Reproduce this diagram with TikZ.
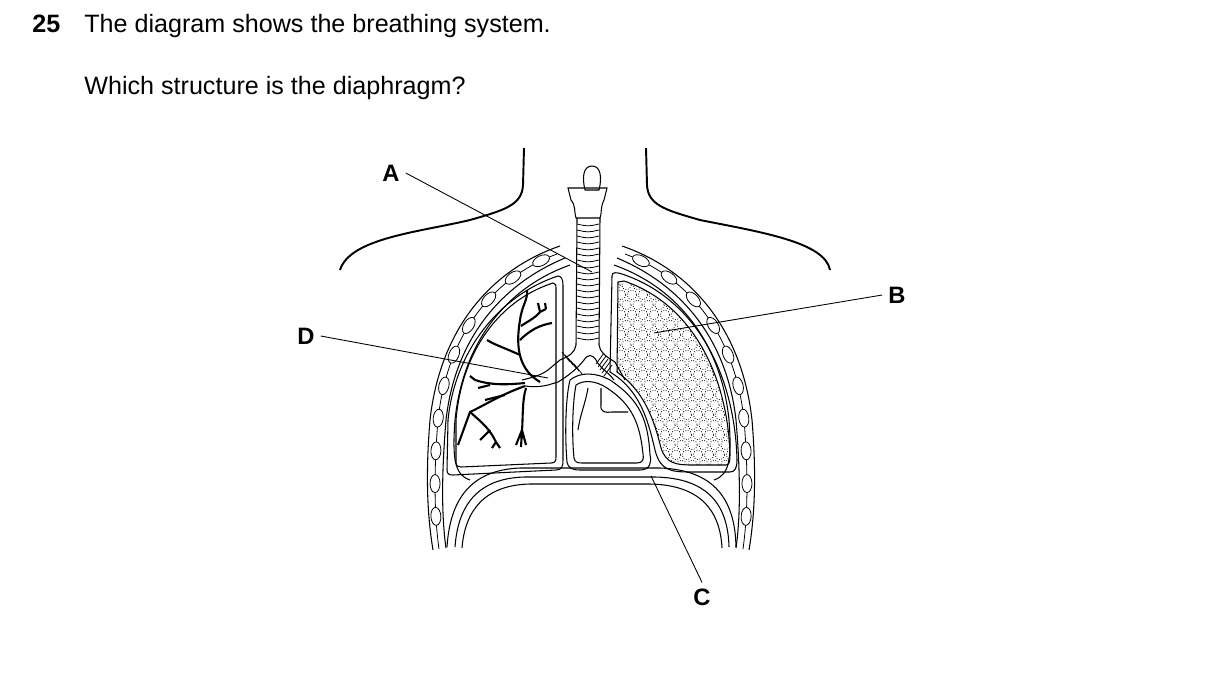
\documentclass[tikz,border=0pt]{standalone}
\usepackage{fontspec}
\setmainfont{Liberation Sans}
\usetikzlibrary{decorations.markings}
\begin{document}
\begin{tikzpicture}[x=0.02cm,y=-0.02cm,
  line/.style={line width=0.6pt},
  thin/.style={line width=0.45pt},
  body/.style={line width=1.1pt},
  lbl/.style={font=\fontsize{13.5}{15}\selectfont\bfseries},
  txt/.style={font=\fontsize{14.3}{16}\selectfont, anchor=base west, inner sep=0pt},
  lead/.style={line width=0.5pt},
  ribs/.style={thin, postaction={decorate}, decoration={markings,
     mark=between positions 0.05 and 0.98 step 0.095 with {\draw[thin,fill=white] (0,0) ellipse (9 and 5);}}}]
\useasboundingbox (0,0) rectangle (1209,696);
\node[txt,font=\fontsize{14.3}{16}\selectfont\bfseries] (q) at (32,33) {25};
\node[txt] (t1) at (84,33) {The diagram shows the breathing system.};
\node[txt] (t2) at (84,94) {Which structure is the diaphragm?};
% neck and shoulders
\draw[body] (524,148) -- (523,185) .. controls (522,205) and (505,210) .. (470,220) .. controls (420,232) and (350,238) .. (340,270);
\draw[body] (646,148) -- (647,185) .. controls (648,205) and (665,210) .. (700,220) .. controls (760,232) and (825,242) .. (830,270);
% ribcage outer band
\draw[line] (560,246) .. controls (490,270) and (440,330) .. (430,420) .. controls (425,480) and (428,520) .. (433,550);
\draw[line] (565,258) .. controls (500,285) and (455,340) .. (446,420) .. controls (441,480) and (442,520) .. (446,548);
\draw[ribs] (557,254) .. controls (492,278) and (447,335) .. (438,420) .. controls (433,480) and (435,520) .. (439,549);
\draw[line] (622,246) .. controls (692,270) and (742,330) .. (752,420) .. controls (757,480) and (754,520) .. (749,550);
\draw[line] (617,258) .. controls (682,285) and (727,340) .. (736,420) .. controls (741,480) and (740,520) .. (736,548);
\draw[ribs] (625,254) .. controls (690,278) and (735,335) .. (744,420) .. controls (749,480) and (747,520) .. (743,549);
% pleural lines
\draw[line] (570,265) .. controls (500,290) and (462,350) .. (455,420) .. controls (452,460) and (455,475) .. (470,480);
\draw[line] (614,265) .. controls (684,290) and (722,350) .. (729,420) .. controls (732,460) and (729,475) .. (714,480);
% diaphragm
\draw[line] (447,547) .. controls (450,500) and (470,470) .. (520,468) -- (660,468) .. controls (715,470) and (735,500) .. (736,547);
\draw[line] (455,547) .. controls (458,505) and (478,478) .. (525,477) -- (655,477) .. controls (708,478) and (728,505) .. (729,547);
\draw[line] (462,548) .. controls (465,510) and (485,485) .. (530,484) -- (650,484) .. controls (700,485) and (720,510) .. (722,548);
% left lung
\draw[line] (558,276) .. controls (500,295) and (455,350) .. (448,420) -- (447,470) .. controls (447,474) and (449,475) .. (453,475) -- (556,470) .. controls (562,470) and (563,466) .. (563,460) -- (563,285) .. controls (563,279) and (561,276) .. (558,276) -- cycle;
\draw[line] (553,283) .. controls (500,300) and (462,350) .. (456,420) -- (456,462) .. controls (456,466) and (458,467) .. (461,467) -- (551,463) .. controls (555,463) and (556,461) .. (556,457) -- (556,290) .. controls (556,285) and (556,283) .. (553,283) -- cycle;
% right lung
\draw[line] (612,276) -- (610,372) .. controls (640,390) and (648,420) .. (655,450) .. controls (660,470) and (670,472) .. (690,472) -- (730,472) .. controls (735,472) and (737,468) .. (737,460) .. controls (735,380) and (700,300) .. (622,274) .. controls (616,272) and (612,272) .. (612,276) -- cycle;
\begin{scope}
\clip (618,282) -- (617,372) .. controls (645,392) and (654,420) .. (661,448) .. controls (666,463) and (675,465) .. (692,465) -- (726,465) .. controls (729,465) and (730,462) .. (730,455) .. controls (728,380) and (695,305) .. (624,281) -- cycle;
\foreach \i in {0,...,20}{\foreach \j in {0,...,11}{
  \pgfmathsetmacro{\xx}{610+\j*11+mod(\i,2)*5.5}
  \pgfmathsetmacro{\yy}{275+\i*10}
  \draw[thin,densely dotted] (\xx,\yy) circle (4.8);}}
\end{scope}
\draw[line] (618,282) -- (617,372) .. controls (645,392) and (654,420) .. (661,448) .. controls (666,463) and (675,465) .. (692,465) -- (726,465) .. controls (729,465) and (730,462) .. (730,455) .. controls (728,380) and (695,305) .. (624,281) -- cycle;
% mediastinum / heart
\draw[line] (570,380) .. controls (565,400) and (565,440) .. (567,462) .. controls (568,468) and (572,470) .. (580,470) -- (640,470) .. controls (650,470) and (652,462) .. (650,455) .. controls (648,420) and (640,400) .. (610,380) .. controls (595,372) and (580,372) .. (570,380) -- cycle;
\draw[line] (576,385) .. controls (572,405) and (572,440) .. (574,458) .. controls (575,462) and (577,463) .. (582,463) -- (637,463) .. controls (643,463) and (644,459) .. (643,454) .. controls (640,425) and (633,405) .. (607,388) .. controls (595,380) and (583,380) .. (576,385) -- cycle;
\draw[line] (601,388) -- (601,405) .. controls (600,412) and (605,413) .. (612,412) -- (628,412);
\draw[line] (588,388) .. controls (585,405) and (580,415) .. (578,430);
% larynx and trachea
\draw[line] (585,190) .. controls (582,178) and (583,166) .. (592,166) .. controls (601,166) and (602,178) .. (599,190) -- cycle;
\draw[line] (568,188) -- (607,188) -- (604,200) .. controls (600,208) and (602,214) .. (600,218) -- (576,218) .. controls (574,212) and (576,206) .. (571,200) -- cycle;
\draw[line] (577,218) -- (576,345) .. controls (575,352) and (570,356) .. (560,360) -- (548,370) .. controls (540,376) and (530,378) .. (522,380);
\draw[line] (600,218) -- (599,345) .. controls (600,352) and (605,356) .. (615,362) -- (625,380);
\draw[line] (584,360) .. controls (588,354) and (592,354) .. (596,360) .. controls (600,368) and (608,372) .. (614,380);
\draw[line] (584,360) .. controls (578,368) and (568,376) .. (558,382) -- (548,385) .. controls (540,387) and (532,387) .. (525,386);
\foreach \y in {224,230,...,340}{\draw[thin] (577,\y) .. controls (588,\y+2.5) .. (599,\y);}
\foreach \k in {0,...,4}{\draw[thin] (562+\k*3,352+\k*3) -- (570+\k*3,362+\k*3); \draw[thin] (604+\k*2,353+\k*3) -- (596+\k*2,364+\k*3);}
% bronchial tree (left lung)
\begin{scope}[line width=1.2pt]
\draw (540,382) .. controls (520,370) and (515,350) .. (520,320) .. controls (522,305) and (528,300) .. (527,290);
\draw (520,340) .. controls (530,330) and (540,325) .. (552,323);
\draw (521,326) .. controls (530,320) and (535,318) .. (540,312);
\draw (540,312) -- (538,303) (540,312) -- (546,309) (546,309) -- (545,303);
\draw (520,355) .. controls (505,348) and (495,345) .. (487,340);
\draw (525,383) .. controls (505,385) and (490,385) .. (475,380);
\draw (490,385) -- (478,388) (475,380) -- (470,376);
\draw (525,386) .. controls (500,395) and (485,405) .. (470,412) -- (458,445);
\draw (470,412) .. controls (485,425) and (490,430) .. (496,442);
\draw (490,430) -- (480,440) (496,442) -- (500,448) (496,442) -- (492,448);
\draw (526,388) .. controls (522,400) and (523,420) .. (522,430) -- (516,445) (522,430) -- (526,445) (522,430) -- (521,447);
\draw (505,395) -- (485,400);
\end{scope}
% labels and leaders
\node[lbl] (A) at (391,173) {A};
\node[lbl] (B) at (897,295) {B};
\node[lbl] (C) at (702,597) {C};
\node[lbl] (D) at (306,336) {D};
\coordinate (a) at (592,272);
\coordinate (b) at (654,333);
\coordinate (c) at (651,476);
\coordinate (d) at (548,378);
\draw[lead] (A.east) -- (a);
\draw[lead] (B.west) -- (b);
\draw[lead] (C.north) -- (c);
\draw[lead] (D.east) -- (d);
\end{tikzpicture}
\end{document}
